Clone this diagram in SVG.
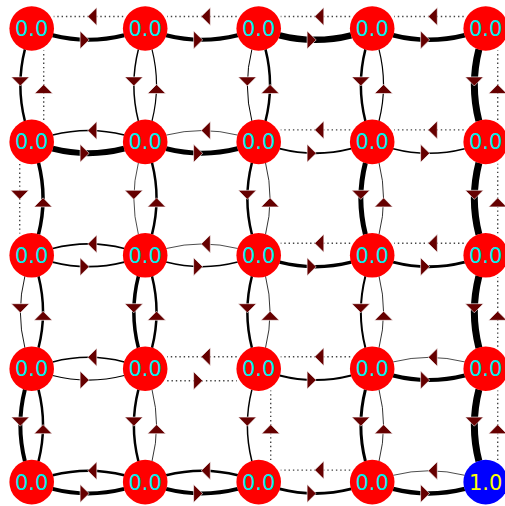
<svg xmlns="http://www.w3.org/2000/svg" xmlns:xlink="http://www.w3.org/1999/xlink" width="505" height="506" viewBox="0 0 505 506">
<style>
.e{fill:none;stroke:#000;stroke-linecap:butt}
.d{fill:none;stroke:#444;stroke-width:1.4;stroke-dasharray:1.4 2.9}
.a{fill:#660000;stroke:#fff;stroke-width:0.6}
.n{fill:#f00}
.b{fill:#00f}
.t{font-family:"DejaVu Sans",sans-serif;font-size:21px;fill:#0ee;text-anchor:middle}
.y{fill:#ff0}
</style>
<defs>
<path id="c" class="e" d="M20.9,6.8Q56.7,15.9 92.5,6.8"/>
<path id="dt" class="d" d="M22,12H91.5"/>
<polygon id="ar" class="a" points="57.5,11.4 48.4,2.4 48.4,20.4"/>
<polygon id="ad" class="a" points="57.5,12 48.4,3 48.4,21"/>
</defs>
<rect width="505" height="506" fill="#fff"/>
<g id="edges">
<!-- row 0 -->
<g transform="translate(31.7,28.5)"><use href="#c" stroke-width="4"/><use href="#ar"/></g>
<g transform="translate(145.2,28.5)"><use href="#c" stroke-width="4"/><use href="#ar"/></g>
<g transform="translate(258.7,28.5)"><use href="#c" stroke-width="6.5"/><use href="#ar"/></g>
<g transform="translate(372.2,28.5)"><use href="#c" stroke-width="4.5"/><use href="#ar"/></g>
<g transform="translate(145.2,28.5) rotate(180)"><use href="#dt"/><use href="#ad"/></g>
<g transform="translate(258.7,28.5) rotate(180)"><use href="#dt"/><use href="#ad"/></g>
<g transform="translate(372.2,28.5) rotate(180)"><use href="#dt"/><use href="#ad"/></g>
<g transform="translate(485.7,28.5) rotate(180)"><use href="#dt"/><use href="#ad"/></g>
<!-- row 1 -->
<g transform="translate(31.7,141.9)"><use href="#c" stroke-width="6"/><use href="#ar"/></g>
<g transform="translate(145.2,141.9)"><use href="#c" stroke-width="5"/><use href="#ar"/></g>
<g transform="translate(258.7,141.9)"><use href="#c" stroke-width="1.8"/><use href="#ar"/></g>
<g transform="translate(372.2,141.9)"><use href="#c" stroke-width="1.5"/><use href="#ar"/></g>
<g transform="translate(145.2,141.9) rotate(180)"><use href="#c" stroke-width="1.5"/><use href="#ar"/></g>
<g transform="translate(258.7,141.9) rotate(180)"><use href="#c" stroke-width="0.7"/><use href="#ar"/></g>
<g transform="translate(372.2,141.9) rotate(180)"><use href="#dt"/><use href="#ad"/></g>
<g transform="translate(485.7,141.9) rotate(180)"><use href="#dt"/><use href="#ad"/></g>
<!-- row 2 -->
<g transform="translate(31.7,255.3)"><use href="#c" stroke-width="1.8"/><use href="#ar"/></g>
<g transform="translate(145.2,255.3)"><use href="#c" stroke-width="1.5"/><use href="#ar"/></g>
<g transform="translate(258.7,255.3)"><use href="#c" stroke-width="3.5"/><use href="#ar"/></g>
<g transform="translate(372.2,255.3)"><use href="#c" stroke-width="3"/><use href="#ar"/></g>
<g transform="translate(145.2,255.3) rotate(180)"><use href="#c" stroke-width="1.8"/><use href="#ar"/></g>
<g transform="translate(258.7,255.3) rotate(180)"><use href="#c" stroke-width="0.7"/><use href="#ar"/></g>
<g transform="translate(372.2,255.3) rotate(180)"><use href="#dt"/><use href="#ad"/></g>
<g transform="translate(485.7,255.3) rotate(180)"><use href="#dt"/><use href="#ad"/></g>
<!-- row 3 -->
<g transform="translate(31.7,368.7)"><use href="#c" stroke-width="1.2"/><use href="#ar"/></g>
<g transform="translate(145.2,368.7)"><use href="#dt"/><use href="#ad"/></g>
<g transform="translate(258.7,368.7)"><use href="#c" stroke-width="2"/><use href="#ar"/></g>
<g transform="translate(372.2,368.7)"><use href="#c" stroke-width="4"/><use href="#ar"/></g>
<g transform="translate(145.2,368.7) rotate(180)"><use href="#c" stroke-width="1.5"/><use href="#ar"/></g>
<g transform="translate(258.7,368.7) rotate(180)"><use href="#dt"/><use href="#ad"/></g>
<g transform="translate(372.2,368.7) rotate(180)"><use href="#dt"/><use href="#ad"/></g>
<g transform="translate(485.7,368.7) rotate(180)"><use href="#c" stroke-width="0.7"/><use href="#ar"/></g>
<!-- row 4 -->
<g transform="translate(31.7,482.1)"><use href="#c" stroke-width="4"/><use href="#ar"/></g>
<g transform="translate(145.2,482.1)"><use href="#c" stroke-width="4"/><use href="#ar"/></g>
<g transform="translate(258.7,482.1)"><use href="#c" stroke-width="3"/><use href="#ar"/></g>
<g transform="translate(372.2,482.1)"><use href="#c" stroke-width="4.5"/><use href="#ar"/></g>
<g transform="translate(145.2,482.1) rotate(180)"><use href="#c" stroke-width="2.5"/><use href="#ar"/></g>
<g transform="translate(258.7,482.1) rotate(180)"><use href="#c" stroke-width="2.5"/><use href="#ar"/></g>
<g transform="translate(372.2,482.1) rotate(180)"><use href="#dt"/><use href="#ad"/></g>
<g transform="translate(485.7,482.1) rotate(180)"><use href="#c" stroke-width="0.7"/><use href="#ar"/></g>
<!-- col 0 -->
<g transform="translate(31.7,28.5) rotate(90)"><use href="#c" stroke-width="2.5"/><use href="#ar"/></g>
<g transform="translate(31.7,141.9) rotate(90)"><use href="#dt"/><use href="#ad"/></g>
<g transform="translate(31.7,255.3) rotate(90)"><use href="#c" stroke-width="0.9"/><use href="#ar"/></g>
<g transform="translate(31.7,368.7) rotate(90)"><use href="#c" stroke-width="4"/><use href="#ar"/></g>
<g transform="translate(31.7,141.9) rotate(-90)"><use href="#dt"/><use href="#ad"/></g>
<g transform="translate(31.7,255.3) rotate(-90)"><use href="#c" stroke-width="3.5"/><use href="#ar"/></g>
<g transform="translate(31.7,368.7) rotate(-90)"><use href="#c" stroke-width="2.5"/><use href="#ar"/></g>
<g transform="translate(31.7,482.1) rotate(-90)"><use href="#c" stroke-width="2.5"/><use href="#ar"/></g>
<!-- col 1 -->
<g transform="translate(145.2,28.5) rotate(90)"><use href="#c" stroke-width="1.5"/><use href="#ar"/></g>
<g transform="translate(145.2,141.9) rotate(90)"><use href="#c" stroke-width="0.7"/><use href="#ar"/></g>
<g transform="translate(145.2,255.3) rotate(90)"><use href="#c" stroke-width="3.5"/><use href="#ar"/></g>
<g transform="translate(145.2,368.7) rotate(90)"><use href="#c" stroke-width="2.5"/><use href="#ar"/></g>
<g transform="translate(145.2,141.9) rotate(-90)"><use href="#c" stroke-width="1.2"/><use href="#ar"/></g>
<g transform="translate(145.2,255.3) rotate(-90)"><use href="#c" stroke-width="2.5"/><use href="#ar"/></g>
<g transform="translate(145.2,368.7) rotate(-90)"><use href="#c" stroke-width="2.5"/><use href="#ar"/></g>
<g transform="translate(145.2,482.1) rotate(-90)"><use href="#c" stroke-width="0.8"/><use href="#ar"/></g>
<!-- col 2 -->
<g transform="translate(258.7,28.5) rotate(90)"><use href="#c" stroke-width="1"/><use href="#ar"/></g>
<g transform="translate(258.7,141.9) rotate(90)"><use href="#c" stroke-width="2.5"/><use href="#ar"/></g>
<g transform="translate(258.7,255.3) rotate(90)"><use href="#c" stroke-width="2.5"/><use href="#ar"/></g>
<g transform="translate(258.7,368.7) rotate(90)"><use href="#c" stroke-width="1.5"/><use href="#ar"/></g>
<g transform="translate(258.7,141.9) rotate(-90)"><use href="#c" stroke-width="2.5"/><use href="#ar"/></g>
<g transform="translate(258.7,255.3) rotate(-90)"><use href="#c" stroke-width="0.8"/><use href="#ar"/></g>
<g transform="translate(258.7,368.7) rotate(-90)"><use href="#c" stroke-width="0.8"/><use href="#ar"/></g>
<g transform="translate(258.7,482.1) rotate(-90)"><use href="#dt"/><use href="#ad"/></g>
<!-- col 3 -->
<g transform="translate(372.2,28.5) rotate(90)"><use href="#c" stroke-width="2.5"/><use href="#ar"/></g>
<g transform="translate(372.2,141.9) rotate(90)"><use href="#c" stroke-width="5"/><use href="#ar"/></g>
<g transform="translate(372.2,255.3) rotate(90)"><use href="#c" stroke-width="2"/><use href="#ar"/></g>
<g transform="translate(372.2,368.7) rotate(90)"><use href="#c" stroke-width="3"/><use href="#ar"/></g>
<g transform="translate(372.2,141.9) rotate(-90)"><use href="#c" stroke-width="1.2"/><use href="#ar"/></g>
<g transform="translate(372.2,255.3) rotate(-90)"><use href="#c" stroke-width="0.8"/><use href="#ar"/></g>
<g transform="translate(372.2,368.7) rotate(-90)"><use href="#c" stroke-width="0.8"/><use href="#ar"/></g>
<g transform="translate(372.2,482.1) rotate(-90)"><use href="#c" stroke-width="0.8"/><use href="#ar"/></g>
<!-- col 4 -->
<g transform="translate(485.7,28.5) rotate(90)"><use href="#c" stroke-width="7"/><use href="#ar"/></g>
<g transform="translate(485.7,141.9) rotate(90)"><use href="#c" stroke-width="7"/><use href="#ar"/></g>
<g transform="translate(485.7,255.3) rotate(90)"><use href="#c" stroke-width="7"/><use href="#ar"/></g>
<g transform="translate(485.7,368.7) rotate(90)"><use href="#c" stroke-width="7"/><use href="#ar"/></g>
<g transform="translate(485.7,141.9) rotate(-90)"><use href="#dt"/><use href="#ad"/></g>
<g transform="translate(485.7,255.3) rotate(-90)"><use href="#dt"/><use href="#ad"/></g>
<g transform="translate(485.7,368.7) rotate(-90)"><use href="#dt"/><use href="#ad"/></g>
<g transform="translate(485.7,482.1) rotate(-90)"><use href="#dt"/><use href="#ad"/></g>
</g>
<g id="nodes">
<g id="n00"><circle class="n" cx="31.7" cy="28.5" r="22.3"/><text class="t" x="31.7" y="36">0.0</text></g>
<g id="n10"><circle class="n" cx="145.2" cy="28.5" r="22.3"/><text class="t" x="145.2" y="36">0.0</text></g>
<g id="n20"><circle class="n" cx="258.7" cy="28.5" r="22.3"/><text class="t" x="258.7" y="36">0.0</text></g>
<g id="n30"><circle class="n" cx="372.2" cy="28.5" r="22.3"/><text class="t" x="372.2" y="36">0.0</text></g>
<g id="n40"><circle class="n" cx="485.7" cy="28.5" r="22.3"/><text class="t" x="485.7" y="36">0.0</text></g>
<g id="n01"><circle class="n" cx="31.7" cy="141.9" r="22.3"/><text class="t" x="31.7" y="149.4">0.0</text></g>
<g id="n11"><circle class="n" cx="145.2" cy="141.9" r="22.3"/><text class="t" x="145.2" y="149.4">0.0</text></g>
<g id="n21"><circle class="n" cx="258.7" cy="141.9" r="22.3"/><text class="t" x="258.7" y="149.4">0.0</text></g>
<g id="n31"><circle class="n" cx="372.2" cy="141.9" r="22.3"/><text class="t" x="372.2" y="149.4">0.0</text></g>
<g id="n41"><circle class="n" cx="485.7" cy="141.9" r="22.3"/><text class="t" x="485.7" y="149.4">0.0</text></g>
<g id="n02"><circle class="n" cx="31.7" cy="255.3" r="22.3"/><text class="t" x="31.7" y="262.8">0.0</text></g>
<g id="n12"><circle class="n" cx="145.2" cy="255.3" r="22.3"/><text class="t" x="145.2" y="262.8">0.0</text></g>
<g id="n22"><circle class="n" cx="258.7" cy="255.3" r="22.3"/><text class="t" x="258.7" y="262.8">0.0</text></g>
<g id="n32"><circle class="n" cx="372.2" cy="255.3" r="22.3"/><text class="t" x="372.2" y="262.8">0.0</text></g>
<g id="n42"><circle class="n" cx="485.7" cy="255.3" r="22.3"/><text class="t" x="485.7" y="262.8">0.0</text></g>
<g id="n03"><circle class="n" cx="31.7" cy="368.7" r="22.3"/><text class="t" x="31.7" y="376.2">0.0</text></g>
<g id="n13"><circle class="n" cx="145.2" cy="368.7" r="22.3"/><text class="t" x="145.2" y="376.2">0.0</text></g>
<g id="n23"><circle class="n" cx="258.7" cy="368.7" r="22.3"/><text class="t" x="258.7" y="376.2">0.0</text></g>
<g id="n33"><circle class="n" cx="372.2" cy="368.7" r="22.3"/><text class="t" x="372.2" y="376.2">0.0</text></g>
<g id="n43"><circle class="n" cx="485.7" cy="368.7" r="22.3"/><text class="t" x="485.7" y="376.2">0.0</text></g>
<g id="n04"><circle class="n" cx="31.7" cy="482.1" r="22.3"/><text class="t" x="31.7" y="489.6">0.0</text></g>
<g id="n14"><circle class="n" cx="145.2" cy="482.1" r="22.3"/><text class="t" x="145.2" y="489.6">0.0</text></g>
<g id="n24"><circle class="n" cx="258.7" cy="482.1" r="22.3"/><text class="t" x="258.7" y="489.6">0.0</text></g>
<g id="n34"><circle class="n" cx="372.2" cy="482.1" r="22.3"/><text class="t" x="372.2" y="489.6">0.0</text></g>
<g id="n44"><circle class="b" cx="485.7" cy="482.1" r="22.3"/><text class="t y" x="485.7" y="489.6">1.0</text></g>
</g>
</svg>
